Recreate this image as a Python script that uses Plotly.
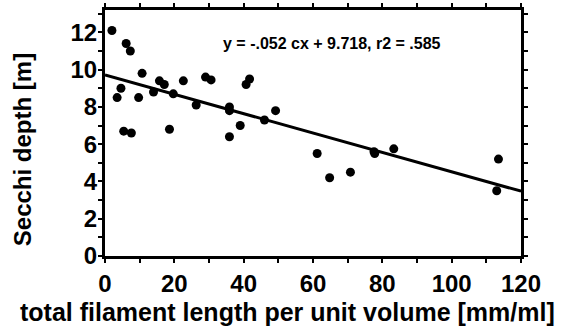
import numpy as np
import plotly.graph_objects as go

# Data
filament_length = [2.0, 6.1, 7.3, 10.7, 4.6, 3.5, 9.7, 15.7, 17.1, 14.0, 19.7,
                   22.6, 26.3, 29.0, 30.6, 35.9, 35.9, 5.4, 7.6, 18.6, 35.9,
                   39.0, 40.7, 41.7, 49.2, 46.0, 61.2, 64.8, 70.8, 77.6, 77.8,
                   83.3, 113.5, 113.0]
secchi_depth = [12.1, 11.4, 11.0, 9.8, 9.0, 8.5, 8.5, 9.4, 9.2, 8.8, 8.7,
                9.4, 8.1, 9.6, 9.45, 8.0, 7.8, 6.7, 6.6, 6.8, 6.4,
                7.0, 9.2, 9.5, 7.8, 7.3, 5.5, 4.2, 4.5, 5.6, 5.5,
                5.75, 5.2, 3.5]

slope = -0.052
intercept = 9.718
fit_x = [0, 120]
fit_y = [intercept + slope * v for v in fit_x]

x_ticks = [0, 20, 40, 60, 80, 100, 120]
y_ticks = [0, 2, 4, 6, 8, 10, 12]
equation_text = "y = -.052 cx + 9.718, r2 = .585"
x_title = "total filament length per unit volume [mm/ml]"
y_title = "Secchi depth [m]"

FONT = "Liberation Sans"

fig = go.Figure()
fig.add_trace(go.Scatter(x=fit_x, y=fit_y, mode="lines",
                         line=dict(color="black", width=3), showlegend=False,
                         hoverinfo="skip"))
fig.add_trace(go.Scatter(x=filament_length, y=secchi_depth, mode="markers",
                         marker=dict(color="black", size=9), showlegend=False))

fig.add_annotation(x=65.6, y=11.4, text=equation_text, showarrow=False,
                   font=dict(family=FONT, size=16, color="black", weight="bold"))
fig.add_annotation(xref="paper", yref="paper", x=0.4375, y=-0.228,
                   xanchor="center", yanchor="middle", text=x_title, showarrow=False,
                   font=dict(family=FONT, size=25, color="black", weight="bold"))
fig.add_annotation(xref="paper", yref="paper", x=-0.1995, y=0.43,
                   xanchor="center", yanchor="middle", text=y_title, textangle=-90,
                   showarrow=False,
                   font=dict(family=FONT, size=24, color="black", weight="bold"))

axis_common = dict(showline=True, linecolor="black", linewidth=3, mirror="allticks",
                   ticks="outside", ticklen=4, tickwidth=2, tickcolor="black",
                   showgrid=False, zeroline=False,
                   tickfont=dict(family=FONT, size=24, color="black", weight="bold"))

fig.update_xaxes(range=[0, 120], tickvals=x_ticks, ticktext=[str(v) for v in x_ticks],
                 minor=dict(dtick=10, tick0=0, ticks="outside", ticklen=4, tickwidth=2,
                            tickcolor="black"),
                 **axis_common)
fig.update_yaxes(range=[0, 13.2], tickvals=y_ticks, ticktext=[str(v) for v in y_ticks],
                 minor=dict(dtick=1, tick0=0, ticks="outside", ticklen=4, tickwidth=2,
                            tickcolor="black"),
                 ticklabelstandoff=-4,
                 **axis_common)

fig.update_layout(width=574, height=330, paper_bgcolor="white", plot_bgcolor="white",
                  margin=dict(l=105, r=53, t=10, b=74, autoexpand=False))

fig.write_html("out.html")
